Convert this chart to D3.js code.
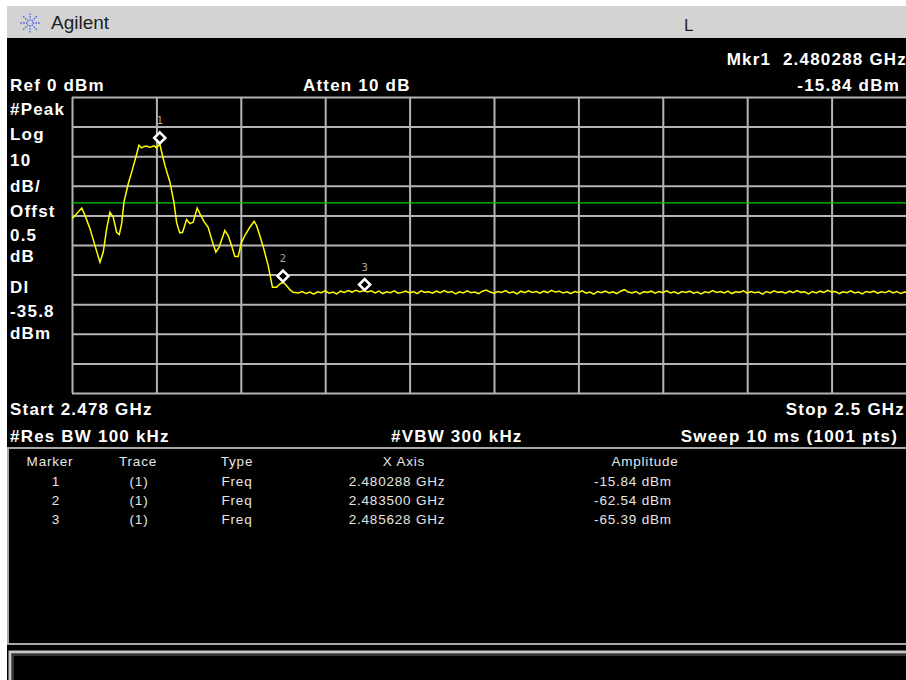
<!DOCTYPE html>
<html>
<head>
<meta charset="utf-8">
<script src="https://cdn.jsdelivr.net/npm/d3@7/dist/d3.min.js"></script>
<style>
  html, body { margin: 0; padding: 0; background: #fff; }
  svg { display: block; }
  .b { font-family: "Liberation Sans", Arial, sans-serif; font-weight: bold; font-size: 17px; fill: #fff; letter-spacing: 1.2px; white-space: pre; }
  .t { font-family: "Liberation Sans", Arial, sans-serif; font-size: 13.5px; fill: #e6e6e6; letter-spacing: 0.8px; }
</style>
</head>
<body>
<script>
// ---------------- data ----------------
const startGHz = 2.478, stopGHz = 2.5;
const refLevel = 0, dbPerDiv = 10, divisions = 10;
const displayLine = -35.8;

const headerTexts = ["Ref 0 dBm", "Atten 10 dB", "Mkr1  2.480288 GHz", "-15.84 dBm"];
const leftLabels = ["#Peak", "Log", "10", "dB/", "Offst", "0.5", "dB", "Dl", "-35.8", "dBm"];
const footerTexts = ["Start 2.478 GHz", "Stop 2.5 GHz", "#Res BW 100 kHz", "#VBW 300 kHz", "Sweep 10 ms (1001 pts)"];

const markerIds = ["1", "2", "3"];
const markerFreq = [2.480288, 2.4835, 2.485628];
const markerAmp = [-15.84, -62.54, -65.39];
const tableHeader = ["Marker", "Trace", "Type", "X Axis", "Amplitude"];
const tableTrace = ["(1)", "(1)", "(1)"];
const tableType = ["Freq", "Freq", "Freq"];
const tableX = ["2.480288 GHz", "2.483500 GHz", "2.485628 GHz"];
const tableAmp = ["-15.84 dBm", "-62.54 dBm", "-65.39 dBm"];

// trace: [frequency GHz, amplitude dBm]
const trace = [
  [2.478000,-41.1],[2.478078,-40.0],[2.478253,-37.5],[2.478339,-40.0],[2.478469,-44.5],
  [2.478599,-50.2],[2.478729,-55.8],[2.478815,-52.4],[2.478904,-44.5],[2.478990,-38.9],
  [2.479075,-40.6],[2.479164,-45.7],[2.479232,-46.5],[2.479294,-42.8],[2.479354,-35.5],
  [2.479466,-29.3],[2.479581,-24.2],[2.479667,-20.2],[2.479745,-16.3],[2.479815,-17.2],
  [2.479880,-16.7],[2.479945,-16.6],[2.480010,-17.0],[2.480075,-16.8],[2.480140,-16.5],
  [2.480206,-17.2],[2.480288,-15.84],[2.480336,-18.5],[2.480421,-23.1],[2.480552,-28.7],
  [2.480656,-35.5],[2.480726,-42.3],[2.480768,-44.3],[2.480812,-45.9],[2.480883,-45.7],
  [2.480987,-41.4],[2.481073,-42.8],[2.481159,-42.3],[2.481263,-37.5],[2.481333,-39.4],
  [2.481437,-42.0],[2.481549,-44.0],[2.481664,-49.1],[2.481750,-52.4],[2.481836,-50.7],
  [2.481984,-45.1],[2.482070,-46.8],[2.482159,-50.2],[2.482244,-53.9],[2.482331,-53.9],
  [2.482419,-49.1],[2.482505,-46.8],[2.482635,-44.0],[2.482747,-42.0],[2.482810,-43.4],
  [2.482895,-46.8],[2.483000,-51.3],[2.483112,-56.9],[2.483226,-64.3],[2.483330,-64.3],
  [2.483416,-63.2],[2.483500,-62.54],[2.483591,-63.7],[2.483677,-65.1],[2.483763,-66.0],
  [2.4839,-66.2],[2.4840,-65.7],[2.4841,-66.4],[2.4842,-65.9],[2.4843,-66.6],[2.4844,-65.8],
  [2.4845,-66.1],[2.4846,-65.5],[2.4847,-66.3],[2.4848,-65.9],[2.4849,-66.5],[2.4850,-65.6],
  [2.4851,-66.0],[2.4852,-65.4],[2.4853,-65.9],[2.4854,-65.3],[2.4855,-65.8],[2.485628,-65.39],
  [2.4857,-65.9],[2.4858,-65.5],[2.4859,-66.2],[2.4860,-65.6],[2.4861,-66.4],[2.4862,-65.8],
  [2.4863,-66.1],[2.4864,-65.5],[2.4865,-66.3],[2.4866,-66.0],[2.4867,-65.6],[2.4868,-66.2],
  [2.4869,-65.7],[2.4870,-66.4],[2.4871,-65.5],[2.4872,-66.0],[2.4873,-65.8],[2.4874,-66.3],
  [2.4875,-65.6],[2.4876,-66.1],[2.4877,-65.4],[2.4878,-66.0],[2.4879,-65.7],[2.4880,-66.5],
  [2.4881,-65.8],[2.4882,-66.2],[2.4883,-65.5],[2.4884,-66.1],[2.4885,-65.9],[2.4886,-66.4],
  [2.4887,-65.6],[2.4888,-65.2],[2.4889,-65.9],[2.4890,-66.3],[2.4891,-65.7],[2.4892,-66.0],
  [2.4893,-65.4],[2.4894,-66.2],[2.4895,-65.8],[2.4896,-66.5],[2.4897,-65.6],[2.4898,-66.1],
  [2.4899,-65.5],[2.4900,-66.0],[2.4901,-65.7],[2.4902,-66.3],[2.4903,-65.6],[2.4904,-66.1],
  [2.4905,-65.3],[2.4906,-65.9],[2.4907,-65.6],[2.4908,-66.2],[2.4909,-65.8],[2.4910,-66.4],
  [2.4911,-65.7],[2.4912,-66.0],[2.4913,-65.5],[2.4914,-66.3],[2.4915,-65.9],[2.4916,-66.6],
  [2.4917,-65.7],[2.4918,-66.1],[2.4919,-65.6],[2.4920,-66.2],[2.4921,-65.8],[2.4922,-66.4],
  [2.4923,-65.6],[2.4924,-65.1],[2.4925,-65.9],[2.4926,-66.2],[2.4927,-65.7],[2.4928,-66.5],
  [2.4929,-65.8],[2.4930,-66.0],[2.4931,-65.6],[2.4932,-66.3],[2.4933,-65.7],[2.4934,-66.1],
  [2.4935,-65.5],[2.4936,-66.2],[2.4937,-65.8],[2.4938,-66.4],[2.4939,-65.7],[2.4940,-66.0],
  [2.4941,-65.6],[2.4942,-66.3],[2.4943,-65.9],[2.4944,-66.5],[2.4945,-65.8],[2.4946,-66.1],
  [2.4947,-65.4],[2.4948,-66.0],[2.4949,-65.7],[2.4950,-66.2],[2.4951,-65.6],[2.4952,-66.4],
  [2.4953,-65.8],[2.4954,-66.0],[2.4955,-65.5],[2.4956,-66.3],[2.4957,-65.7],[2.4958,-66.1],
  [2.4959,-65.9],[2.4960,-66.6],[2.4961,-65.7],[2.4962,-66.2],[2.4963,-65.5],[2.4964,-66.0],
  [2.4965,-65.8],[2.4966,-66.3],[2.4967,-65.6],[2.4968,-66.1],[2.4969,-65.4],[2.4970,-66.0],
  [2.4971,-65.8],[2.4972,-66.5],[2.4973,-65.7],[2.4974,-66.2],[2.4975,-65.6],[2.4976,-66.0],
  [2.4977,-65.3],[2.4978,-65.9],[2.4979,-65.7],[2.4980,-66.4],[2.4981,-65.8],[2.4982,-66.1],
  [2.4983,-65.5],[2.4984,-66.2],[2.4985,-65.9],[2.4986,-66.5],[2.4987,-65.7],[2.4988,-66.0],
  [2.4989,-65.6],[2.4990,-66.3],[2.4991,-65.8],[2.4992,-66.1],[2.4993,-65.5],[2.4994,-66.2],
  [2.4995,-65.7],[2.4996,-66.4],[2.4997,-65.9],[2.4998,-66.0],[2.4999,-65.6],[2.5000,-66.1]
];

// ---------------- layout ----------------
const W = 906, H = 680;
const gx0 = 72, gx1 = 916, gy0 = 97, gy1 = 393;

const svg = d3.select("body").append("svg").attr("width", W).attr("height", H);

// backgrounds
svg.append("rect").attr("width", W).attr("height", H).attr("fill", "#ffffff");
svg.append("rect").attr("x", 7).attr("y", 6).attr("width", W - 7).attr("height", 32).attr("fill", "#d3d3d3");
svg.append("rect").attr("x", 7).attr("y", 38).attr("width", W - 7).attr("height", H - 38).attr("fill", "#000");

// Agilent logo (spark)
const logo = svg.append("g").attr("transform", "translate(30,23)");
for (let k = 0; k < 8; k++) {
  const a = k * Math.PI / 4;
  logo.append("line")
    .attr("x1", Math.cos(a) * 2.5).attr("y1", Math.sin(a) * 2.5)
    .attr("x2", Math.cos(a) * 10).attr("y2", Math.sin(a) * 10)
    .attr("stroke", "#3a5cf0").attr("stroke-width", 1.3).attr("stroke-dasharray", "1.5,1.3");
}
svg.append("text").attr("x", 51).attr("y", 29)
  .style("font-family", "'Liberation Sans', Arial, sans-serif").style("font-size", "19px").attr("fill", "#1e1e1e").text("Agilent");
svg.append("text").attr("x", 684).attr("y", 31)
  .style("font-family", "'Liberation Sans', Arial, sans-serif").style("font-size", "17px").attr("fill", "#1e1e1e").text("L");

// header texts
svg.append("text").attr("class", "b").attr("x", 10).attr("y", 91).text(headerTexts[0]);
svg.append("text").attr("class", "b").attr("x", 303).attr("y", 91).text(headerTexts[1]);
svg.append("text").attr("class", "b").attr("x", 907).attr("y", 65).attr("text-anchor", "end").text(headerTexts[2]);
svg.append("text").attr("class", "b").attr("x", 900).attr("y", 91).attr("text-anchor", "end").text(headerTexts[3]);

// left labels
const leftY = [115, 140, 166, 192, 217, 241, 262, 293, 317, 339];
svg.selectAll("text.left").data(leftLabels).enter().append("text")
  .attr("class", "b left").attr("x", 10).attr("y", (d, i) => leftY[i]).text(d => d);

// scales
const x = d3.scaleLinear().domain([startGHz, stopGHz]).range([gx0, gx1]);
const y = d3.scaleLinear().domain([refLevel, refLevel - dbPerDiv * divisions]).range([gy0, gy1]);

const xTicks = d3.range(divisions + 1).map(i => startGHz + i * (stopGHz - startGHz) / divisions);
const yTicks = d3.range(divisions + 1).map(i => refLevel - i * dbPerDiv);

// graticule via axes
const gridColor = "#b4b4b4";
const gxAxis = svg.append("g").attr("transform", `translate(0,${gy1})`)
  .call(d3.axisBottom(x).tickValues(xTicks).tickSize(-(gy1 - gy0)).tickFormat(""));
const gyAxis = svg.append("g").attr("transform", `translate(${gx0},0)`)
  .call(d3.axisLeft(y).tickValues(yTicks).tickSize(-(gx1 - gx0)).tickFormat(""));
[gxAxis, gyAxis].forEach(g => {
  g.select(".domain").remove();
  g.selectAll("line").attr("stroke", gridColor).attr("stroke-width", 2);
});

// clip
svg.append("clipPath").attr("id", "clip").append("rect")
  .attr("x", gx0).attr("y", gy0).attr("width", gx1 - gx0).attr("height", gy1 - gy0);

// display line
svg.append("line").attr("x1", gx0).attr("x2", gx1).attr("y1", y(displayLine)).attr("y2", y(displayLine))
  .attr("stroke", "#00d000").attr("stroke-width", 1.3);

// trace
const line = d3.line().x(d => x(d[0])).y(d => y(d[1]));
svg.append("path").datum(trace).attr("clip-path", "url(#clip)")
  .attr("d", line).attr("fill", "none").attr("stroke", "#ffff00").attr("stroke-width", 1.5)
  .attr("stroke-linejoin", "miter");

// markers
const mk = svg.selectAll("g.mk").data(markerIds).enter().append("g").attr("class", "mk")
  .attr("transform", (d, i) => `translate(${x(markerFreq[i])},${y(markerAmp[i]) - 6})`);
mk.append("path").attr("d", "M0,-5.5 L5.5,0 L0,5.5 L-5.5,0 Z")
  .attr("fill", "#000").attr("stroke", "#fff").attr("stroke-width", 2.6);
mk.append("text").attr("y", -14).attr("text-anchor", "middle")
  .style("font-family", "'DejaVu Sans Mono', monospace").style("font-size", "10.5px").attr("fill", "#a8a8a8")
  .text(d => d);

// footer texts
svg.append("text").attr("class", "b").attr("x", 10).attr("y", 415).text(footerTexts[0]);
svg.append("text").attr("class", "b").attr("x", 905).attr("y", 415).attr("text-anchor", "end").text(footerTexts[1]);
svg.append("text").attr("class", "b").attr("x", 10).attr("y", 442).text(footerTexts[2]);
svg.append("text").attr("class", "b").attr("x", 391).attr("y", 442).text(footerTexts[3]);
svg.append("text").attr("class", "b").attr("x", 898).attr("y", 442).attr("text-anchor", "end").text(footerTexts[4]);

// marker table box
svg.append("rect").attr("x", 8).attr("y", 448).attr("width", 910).attr("height", 196)
  .attr("fill", "none").attr("stroke", "#a8a8a8").attr("stroke-width", 2);
// bottom message box
svg.append("rect").attr("x", 10).attr("y", 652).attr("width", 910).attr("height", 40)
  .attr("fill", "none").attr("stroke", "#c4c4c4").attr("stroke-width", 3);
svg.append("rect").attr("x", 13).attr("y", 655).attr("width", 910).attr("height", 40)
  .attr("fill", "none").attr("stroke", "#6a6a6a").attr("stroke-width", 1);

// table
const colX = [50, 138, 237, 404, 645];
const rowY = [466, 486, 505, 524];
svg.selectAll("text.th").data(tableHeader).enter().append("text").attr("class", "t th")
  .attr("x", (d, i) => colX[i]).attr("y", rowY[0]).attr("text-anchor", "middle").text(d => d);
const cols = [markerIds, tableTrace, tableType, tableX, tableAmp];
const colValX = [56, 139, 237, 397, 633];
cols.forEach((col, c) => {
  svg.selectAll(null).data(col).enter().append("text").attr("class", "t")
    .attr("x", colValX[c]).attr("y", (d, i) => rowY[i + 1]).attr("text-anchor", "middle").text(d => d);
});
</script>
</body>
</html>
